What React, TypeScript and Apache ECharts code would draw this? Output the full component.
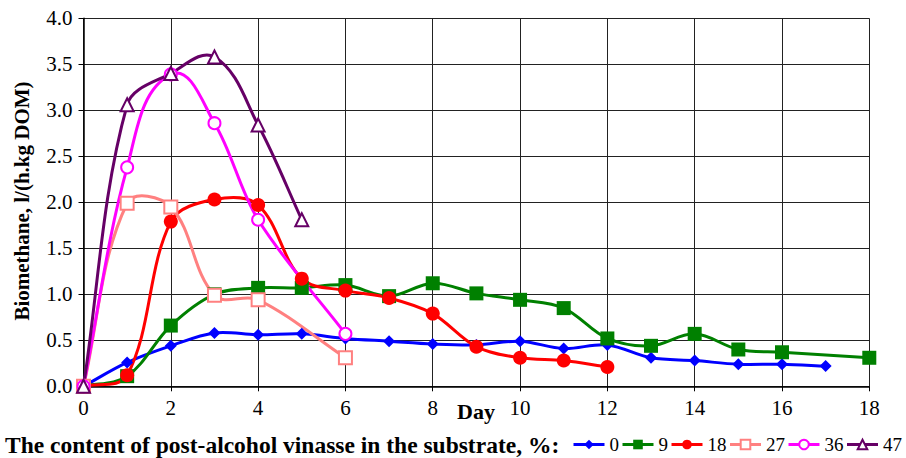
import React, { useEffect, useRef } from "react";
import * as echarts from "echarts";

const xTicks = [0, 2, 4, 6, 8, 10, 12, 14, 16, 18];
const seriesNames = ["0", "9", "18", "27", "36", "47"];

const s0: [number, number][] = [
  [0, 0], [1, 0.26], [2, 0.44], [3, 0.58], [4, 0.56], [5, 0.57], [6, 0.52], [7, 0.49],
  [8, 0.46], [9, 0.45], [10, 0.49], [11, 0.41], [12, 0.45], [13, 0.31], [14, 0.28],
  [15, 0.24], [16, 0.24], [17, 0.22],
];
const s9: [number, number][] = [
  [0, 0], [1, 0.11], [2, 0.66], [3, 1.0], [4, 1.07], [5, 1.07], [6, 1.1], [7, 0.98],
  [8, 1.12], [9, 1.01], [10, 0.94], [11, 0.85], [12, 0.52], [13, 0.44], [14, 0.57],
  [15, 0.4], [16, 0.37], [18, 0.31],
];
const s18: [number, number][] = [
  [0, 0], [1, 0.12], [2, 1.79], [3, 2.03], [4, 1.97], [5, 1.17], [6, 1.04], [7, 0.96],
  [8, 0.79], [9, 0.43], [10, 0.31], [11, 0.28], [12, 0.21],
];
const s27: [number, number][] = [[0, 0], [1, 1.99], [2, 1.95], [3, 0.99], [4, 0.94], [6, 0.31]];
const s36: [number, number][] = [[0, 0], [1, 2.38], [2, 3.39], [3, 2.86], [4, 1.81], [6, 0.57]];
const s47: [number, number][] = [[0, 0], [1, 3.06], [2, 3.4], [3, 3.58], [4, 2.84], [5, 1.81]];

const colors = ["#0000FF", "#008000", "#FF0000", "#FF8080", "#FF00FF", "#660066"];
const symbols = ["diamond", "rect", "circle", "emptyRect", "emptyCircle", "emptyTriangle"];
const symbolSizes = [12, 14, 14, 13, 12, 13];
const dataSets = [s0, s9, s18, s27, s36, s47];

const FONT = "'Liberation Serif', 'Times New Roman', serif";

// Excel-like smoothed curve; tangents scaled by adjacent segment length (pixel space)
function smoothPath(pts: number[][]): string {
  const n = pts.length;
  if (n === 0) return "";
  const k = 1 / 3;
  const tangent = (i: number) => {
    const a = pts[Math.max(i - 1, 0)];
    const b = pts[Math.min(i + 1, n - 1)];
    const dx = b[0] - a[0];
    const dy = b[1] - a[1];
    const len = Math.sqrt(dx * dx + dy * dy) || 1;
    return [dx / len, dy / len];
  };
  let d = `M${pts[0][0]},${pts[0][1]}`;
  for (let i = 0; i < n - 1; i++) {
    const p1 = pts[i];
    const p2 = pts[i + 1];
    const seg = Math.sqrt((p2[0] - p1[0]) ** 2 + (p2[1] - p1[1]) ** 2);
    const t1 = tangent(i);
    const t2 = tangent(i + 1);
    const c1x = p1[0] + t1[0] * seg * k;
    const c1y = p1[1] + t1[1] * seg * k;
    const c2x = p2[0] - t2[0] * seg * k;
    const c2y = p2[1] - t2[1] * seg * k;
    d += ` C${c1x},${c1y} ${c2x},${c2y} ${p2[0]},${p2[1]}`;
  }
  return d;
}

export default function App() {
  const ref = useRef<HTMLDivElement>(null);
  useEffect(() => {
    if (!ref.current) return;
    const chart = echarts.init(ref.current, undefined, { renderer: "svg" });

    const curveSeries = dataSets.map((d, i) => ({
      name: "curve" + seriesNames[i],
      type: "custom",
      silent: true,
      z: 2,
      data: d,
      renderItem: (params: any, api: any) => {
        if (params.dataIndex !== 0) return null;
        const pts = d.map((p) => api.coord(p));
        return {
          type: "path",
          shape: { pathData: smoothPath(pts) },
          style: { stroke: colors[i], lineWidth: 3, fill: "none" },
        };
      },
    }));

    const markerSeries = dataSets.map((d, i) => ({
      name: seriesNames[i],
      type: "line",
      data: d,
      symbol: symbols[i],
      symbolSize: symbolSizes[i],
      showAllSymbol: true,
      color: colors[i],
      lineStyle: { color: colors[i], width: 3, opacity: 0 },
      itemStyle: { color: colors[i], borderWidth: i >= 3 ? 1.5 : 0 },
      z: 3 + i,
    }));

    chart.setOption({
      animation: false,
      backgroundColor: "#fff",
      grid: { left: 83.5, right: 36.7, top: 18.3, bottom: 71.7, containLabel: false },
      xAxis: {
        type: "value",
        min: xTicks[0],
        max: xTicks[xTicks.length - 1],
        interval: 2,
        axisLine: { show: true, lineStyle: { color: "#000", width: 1.5 } },
        axisTick: { show: true, length: 5, inside: false, lineStyle: { color: "#000" } },
        axisLabel: { margin: 11, color: "#000", fontFamily: FONT, fontSize: 21 },
        splitLine: { show: true, lineStyle: { color: "#222", width: 1 } },
      },
      yAxis: {
        type: "value",
        min: 0,
        max: 4,
        interval: 0.5,
        axisLine: { show: true, lineStyle: { color: "#000", width: 1.5 } },
        axisTick: { show: true, length: 5, inside: false, lineStyle: { color: "#000" } },
        axisLabel: {
          margin: 11,
          color: "#000",
          fontFamily: FONT,
          fontSize: 21,
          formatter: (v: number) => v.toFixed(1),
        },
        splitLine: { show: true, lineStyle: { color: "#222", width: 1 } },
      },
      legend: {
        data: seriesNames,
        right: 4,
        top: 435,
        padding: 0,
        itemWidth: 31,
        itemHeight: 12,
        itemGap: 2,
        lineStyle: { width: 3, opacity: 1 },
        textStyle: { color: "#000", fontFamily: FONT, fontSize: 19 },
      },
      graphic: [
        {
          type: "text",
          x: 22,
          y: 201,
          rotation: Math.PI / 2,
          style: {
            text: "Biomethane, l/(h.kg DOM)",
            fontFamily: FONT,
            fontWeight: "bold",
            fontSize: 21,
            fill: "#000",
            align: "center",
            verticalAlign: "middle",
          },
        },
        {
          type: "text",
          x: 476,
          y: 411,
          style: {
            text: "Day",
            fontFamily: FONT,
            fontWeight: "bold",
            fontSize: 22,
            fill: "#000",
            align: "center",
            verticalAlign: "middle",
          },
        },
        {
          type: "text",
          x: 5,
          y: 445,
          style: {
            text: "The content of post-alcohol vinasse in the substrate, %:",
            fontFamily: FONT,
            fontWeight: "bold",
            fontSize: 23.5,
            fill: "#000",
            align: "left",
            verticalAlign: "middle",
          },
        },
      ],
      series: [...curveSeries, ...markerSeries],
    });
    return () => chart.dispose();
  }, []);
  return <div ref={ref} style={{ width: 906, height: 458, position: "absolute", left: 0, top: 0 }} />;
}
